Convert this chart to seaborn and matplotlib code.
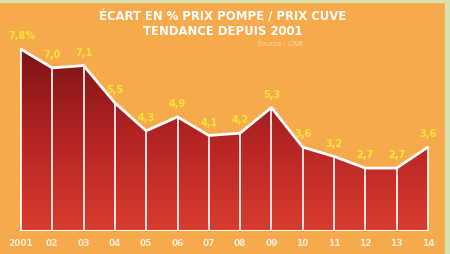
import numpy as np
import pandas as pd
import matplotlib
matplotlib.use("Agg")
import matplotlib.pyplot as plt
from matplotlib.colors import LinearSegmentedColormap
from matplotlib.patches import Rectangle
import seaborn as sns

years = ["2001", "02", "03", "04", "05", "06", "07", "08", "09", "10", "11", "12", "13", "14"]
values = [7.8, 7.0, 7.1, 5.5, 4.3, 4.9, 4.1, 4.2, 5.3, 3.6, 3.2, 2.7, 2.7, 3.6]
labels = ["7,8%", "7,0", "7,1", "5,5", "4,3", "4,9", "4,1", "4,2", "5,3", "3,6", "3,2", "2,7", "2,7", "3,6"]
title = "ÉCART EN % PRIX POMPE / PRIX CUVE\nTENDANCE DEPUIS 2001"
source = "Source : CNR"

sns.set_style("white")
plt.rcParams['font.family'] = ['DejaVu Sans']

W, H = 450, 255
fig = plt.figure(figsize=(W / 100, H / 100), dpi=100)
bg = "#F6AA4B"
fig.patch.set_facecolor(bg)

# light green frame on top / right
fig.add_artist(Rectangle((445 / W, 0), 5 / W, 1, transform=fig.transFigure, color="#D9E2AE", zorder=0))
fig.add_artist(Rectangle((0, 1 - 3 / H), 1, 3 / H, transform=fig.transFigure, color="#D9E2AE", zorder=0))

x0px, step = 21, 31.3
base_px = 232
unit = 23.3
ax = fig.add_axes([0, (H - base_px) / H, 1, base_px / H])
ax.set_facecolor("none")
df = pd.DataFrame({"x": np.arange(len(values)), "v": values})
ax.set_xlim(-x0px / step, (W - x0px) / step)
ax.set_ylim(0, base_px / unit)

# gradient fill
cmap = LinearSegmentedColormap.from_list("g", ["#D93C2F", "#B52524", "#7E1315"])
grad = np.linspace(0, 1, 256).reshape(-1, 1)
im = ax.imshow(grad, aspect="auto", cmap=cmap, origin="lower",
               extent=[0, len(values) - 1, 0, max(values)], zorder=1)
poly = ax.fill_between(df["x"], 0, df["v"], color="none", lw=0)
path = poly.get_paths()[0]
im.set_clip_path(path, transform=ax.transData)

ax.vlines(df["x"], 0, df["v"], color="white", lw=1.2, zorder=2)
ax.hlines(0, 0, len(values) - 1, color="white", lw=1.5, zorder=2)
sns.lineplot(data=df, x="x", y="v", ax=ax, color="white", lw=2, zorder=3)

for i, (v, lab) in enumerate(zip(values, labels)):
    dx = 0 if i else 1
    ax.annotate(lab, (i, v), xytext=(dx, 10), textcoords="offset points",
                ha="center", va="center", color="#F3E534", fontsize=7, fontweight="bold", zorder=4)

ax.set_xticks(df["x"])
ax.set_xticklabels(years, fontsize=6.5, fontweight="bold", color="#FCEBD6")
ax.tick_params(axis="x", length=0, pad=5)
ax.set_yticks([])
ax.set_xlabel("")
ax.set_ylabel("")
for s in ax.spines.values():
    s.set_visible(False)

fig.text(223 / W, 1 - 24 / H, title, ha="center", va="center", color="white",
         fontsize=8.4, fontweight="bold", linespacing=1.2)
fig.text(280 / W, 1 - 44 / H, source, ha="center", va="center", color="#F8DDA8",
         fontsize=5, style="italic")

fig.savefig("out.png", dpi=100, facecolor=bg)
